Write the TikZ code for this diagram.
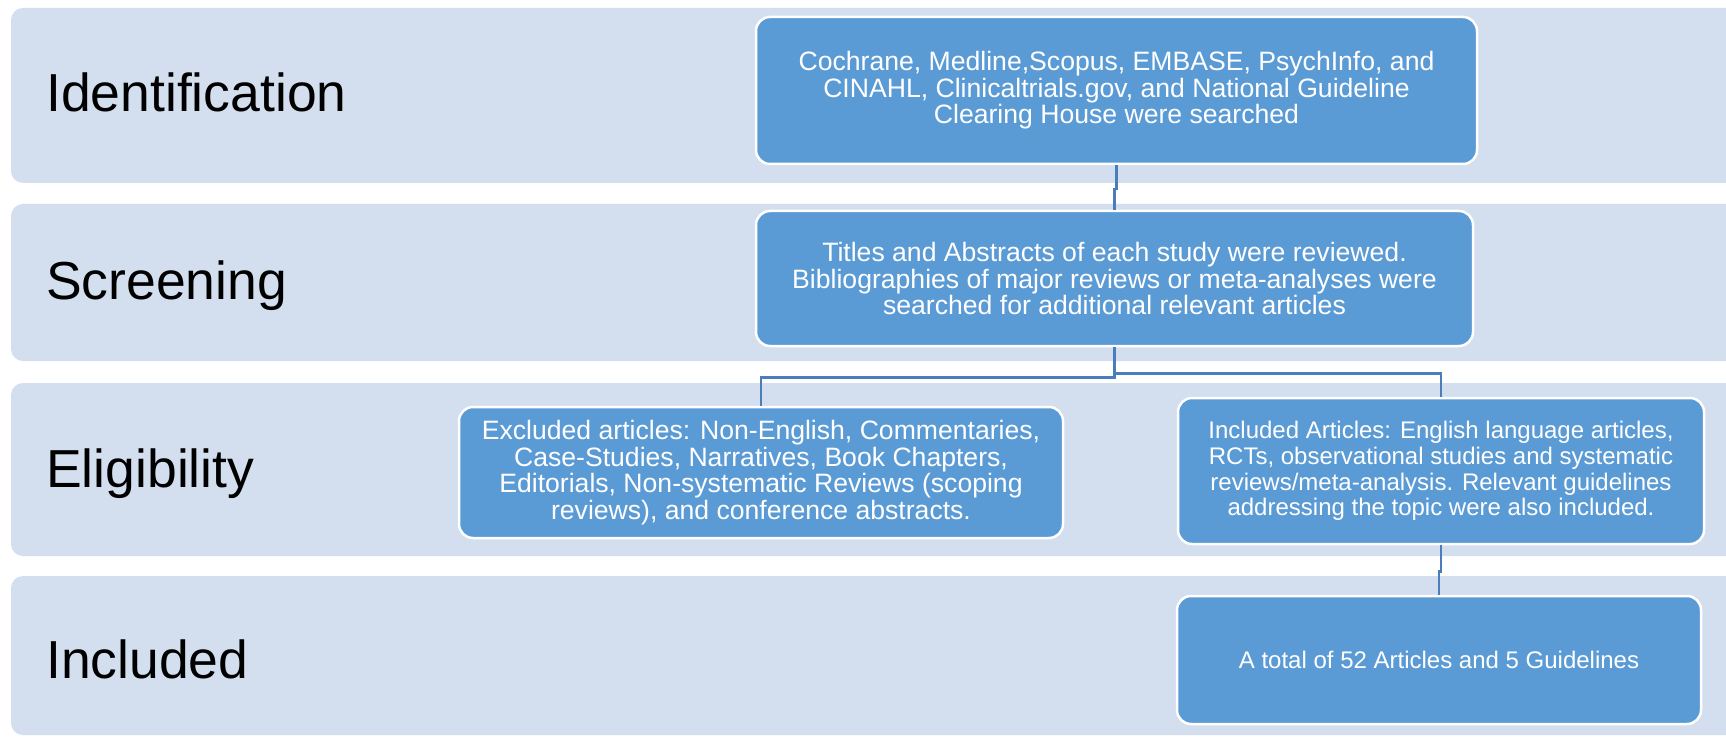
\documentclass[tikz,border=0pt]{standalone}
\usepackage{fontspec}
\setmainfont{Liberation Sans}
\definecolor{bandc}{HTML}{D3DEEF}
\definecolor{boxc}{HTML}{5B9BD5}
\definecolor{connc}{HTML}{4A7EBB}
\begin{document}
\begin{tikzpicture}[x=1pt,y=-1pt,
  band/.style={fill=bandc, rounded corners=12pt},
  lbl/.style={anchor=base west, font=\fontsize{53.5}{60}\selectfont, text=black, inner sep=0pt},
  box/.style={draw=white, line width=2.5pt, fill=boxc, rounded corners=14pt, text=white, align=center, inner sep=0pt, font=\fontsize{26.6}{26.5}\selectfont},
  boxs/.style={box, font=\fontsize{24}{25.7}\selectfont},
  conn/.style={draw=connc, line width=2.5pt}]
\useasboundingbox (0,0) rectangle (1726,738);
\clip (0,0) rectangle (1726,738);
\fill[white] (0,0) rectangle (1726,738);
% bands
\fill[band] (11,8) rectangle (1760,183);
\fill[band] (11,204) rectangle (1760,361);
\fill[band] (11,383) rectangle (1760,556);
\fill[band] (11,576) rectangle (1760,735);
% labels
\node[lbl] (l1) at (46,112) {Identification};
\node[lbl] (l2) at (46,299) {Screening};
\node[lbl] (l3) at (46,487) {Eligibility};
\node[lbl] (l4) at (46,678) {Included};
% boxes
\node[box, minimum width=721pt, minimum height=147pt] (A) at (1116.5,90.5)
  {Cochrane, Medline,Scopus, EMBASE, PsychInfo, and\\CINAHL, Clinicaltrials.gov, and National Guideline\\Clearing House were searched};
\node[box, minimum width=717pt, minimum height=135pt] (B) at (1114.5,278.5)
  {Titles and Abstracts of each study were reviewed.\\Bibliographies of major reviews or meta-analyses were\\searched for additional relevant articles};
\node[box, minimum width=604pt, minimum height=131pt] (C) at (761,472.5)
  {Excluded articles: Non-English, Commentaries,\\Case-Studies, Narratives, Book Chapters,\\Editorials, Non-systematic Reviews (scoping\\reviews), and conference abstracts.};
\node[boxs, minimum width=526pt, minimum height=146pt] (D) at (1441,471)
  {Included Articles: English language articles,\\RCTs, observational studies and systematic\\reviews/meta-analysis. Relevant guidelines\\addressing the topic were also included.};
\node[boxs, minimum width=524pt, minimum height=128pt] (E) at (1439,660)
  {A total of 52 Articles and 5 Guidelines};
% connectors
\draw[conn] (A.south) -- ++(0,24) -| (B.north);
\draw[conn] (B.south) -- ++(0,30) -| (C.north);
\draw[conn] (B.south) -- ++(0,26) -| (D.north);
\draw[conn] (D.south) -- ++(0,26) -| (E.north);
\end{tikzpicture}
\end{document}
